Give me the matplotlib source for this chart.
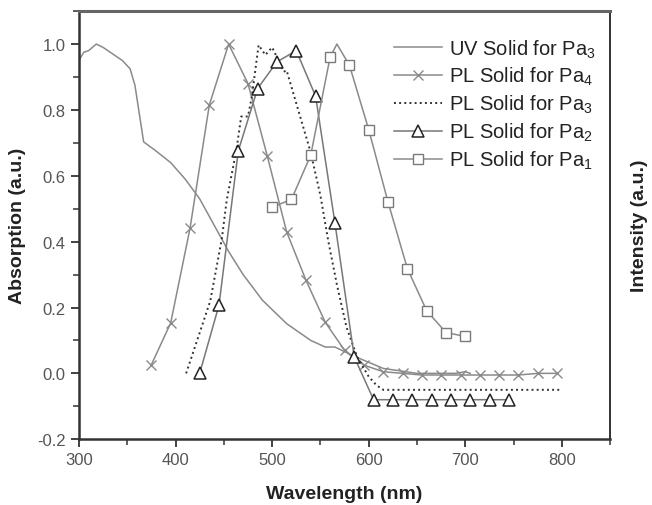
import matplotlib
matplotlib.use('Agg')
import matplotlib.pyplot as plt
from matplotlib.ticker import MultipleLocator

plt.rcParams['font.family'] = ['Liberation Sans', 'DejaVu Sans']
plt.rcParams['mathtext.fontset'] = 'custom'
plt.rcParams['mathtext.rm'] = 'Liberation Sans'
plt.rcParams['mathtext.it'] = 'Liberation Sans'
plt.rcParams['mathtext.default'] = 'regular'

# UV absorption, solid Pa3
uv_wl = [300, 305, 310, 318, 325, 335, 345, 353, 358, 367, 380, 395, 410, 425,
         440, 455, 470, 490, 515, 540, 555, 565, 585, 615, 650, 690, 700, 705]
uv_val = [0.95, 0.975, 0.98, 1.0, 0.99, 0.97, 0.95, 0.925, 0.875, 0.703, 0.675,
          0.64, 0.59, 0.53, 0.45, 0.37, 0.30, 0.222, 0.151, 0.10, 0.08, 0.08,
          0.052, 0.015, 0.0, 0.0, 0.005, 0.0]

# PL solid Pa4 (x markers)
pa4_wl = list(range(375, 796, 20))
pa4_val = [0.026, 0.153, 0.44, 0.815, 1.0, 0.88, 0.66, 0.43, 0.283, 0.155, 0.07,
           0.025, 0.005, 0.0, -0.005, -0.005, -0.005, -0.005, -0.005, -0.005,
           0.0, 0.0]

# PL solid Pa3 (dotted)
pa3_wl = [411, 436, 448, 453, 463, 468, 475, 479, 486, 493, 500, 505, 512, 515,
          518, 525, 532, 540, 550, 558, 567, 577, 588, 600, 608, 615, 800]
pa3_val = [0.0, 0.22, 0.41, 0.526, 0.678, 0.78, 0.78, 0.84, 0.997, 0.967, 0.99,
           0.96, 0.916, 0.92, 0.89, 0.82, 0.75, 0.67, 0.54, 0.404, 0.27, 0.14,
           0.05, -0.01, -0.036, -0.05, -0.05]

# PL solid Pa2 (triangles)
pa2_wl = list(range(425, 746, 20))
pa2_val = [0.0, 0.207, 0.676, 0.865, 0.946, 0.98, 0.842, 0.457, 0.05,
           -0.08, -0.08, -0.08, -0.08, -0.08, -0.08, -0.08, -0.08]

# PL solid Pa1 (squares); 567 is the unmarked peak of the curve
pa1_wl = [500, 520, 540, 560, 567, 580, 600, 620, 640, 660, 680, 700]
pa1_val = [0.505, 0.528, 0.663, 0.96, 1.0, 0.936, 0.74, 0.52, 0.318, 0.19,
           0.124, 0.112]
pa1_marks = [0, 1, 2, 3, 5, 6, 7, 8, 9, 10, 11]

line_c = '#8a8a8a'

fig = plt.figure(figsize=(6.52, 5.06), dpi=100)
ax = fig.add_axes([0.121, 0.130, 0.815, 0.846])

ax.plot(uv_wl, uv_val, '-', color=line_c, lw=1.1, label='UV Solid for Pa$_3$')
ax.plot(pa4_wl, pa4_val, '-', color=line_c, lw=1.1, marker='x', ms=7,
        mew=1.0, label='PL Solid for Pa$_4$')
ax.plot(pa3_wl, pa3_val, ':', color='#333333', lw=1.4, label='PL Solid for Pa$_3$')
ax.plot(pa2_wl, pa2_val, '-', color='#777777', lw=1.1, marker='^', ms=8,
        mfc='white', mec='#222222', mew=1.1, label='PL Solid for Pa$_2$')
ax.plot(pa1_wl, pa1_val, '-', color=line_c, lw=1.1, marker='s', ms=7.5,
        mfc='white', mec='#7a7a7a', mew=1.0, markevery=pa1_marks,
        label='PL Solid for Pa$_1$')

ax.set_xlim(300, 850)
ax.set_ylim(-0.2, 1.1)
ax.set_xticks([300, 400, 500, 600, 700, 800])
ax.set_yticks([-0.2, 0.0, 0.2, 0.4, 0.6, 0.8, 1.0])
ax.set_yticklabels(['-0.2', '0.0', '0.2', '0.4', '0.6', '0.8', '1.0'])
ax.xaxis.set_minor_locator(MultipleLocator(50))
ax.yaxis.set_minor_locator(MultipleLocator(0.1))
ax.tick_params(which='major', direction='out', length=6, width=1.3,
               labelsize=12, colors='#333333', labelcolor='#555555')
ax.tick_params(which='minor', direction='out', length=4, width=1.1,
               colors='#333333')
ax.tick_params(top=False, right=False, which='both')

for s in ['left', 'bottom']:
    ax.spines[s].set_linewidth(1.8)
    ax.spines[s].set_color('#333333')
ax.spines['right'].set_linewidth(1.3)
ax.spines['right'].set_color('#222222')
ax.spines['top'].set_linewidth(2.2)
ax.spines['top'].set_color('#666666')

ax.set_xlabel('Wavelength (nm)', fontsize=14, fontweight='bold',
              color='#222222', labelpad=13)
ax.set_ylabel('Absorption (a.u.)', fontsize=14, fontweight='bold',
              color='#222222', labelpad=8)
ax2 = ax.twinx()
ax2.set_yticks([])
ax2.set_ylabel('Intensity (a.u.)', fontsize=14, fontweight='bold',
               color='#222222', labelpad=15)
for s in ax2.spines.values():
    s.set_visible(False)

ax.legend(loc='upper right', bbox_to_anchor=(1.0, 0.972), frameon=False,
          fontsize=14.5, handlelength=2.4, handletextpad=0.35, labelspacing=0.28,
          borderaxespad=0.3, labelcolor='#222222')

fig.savefig('out.png', dpi=100)
